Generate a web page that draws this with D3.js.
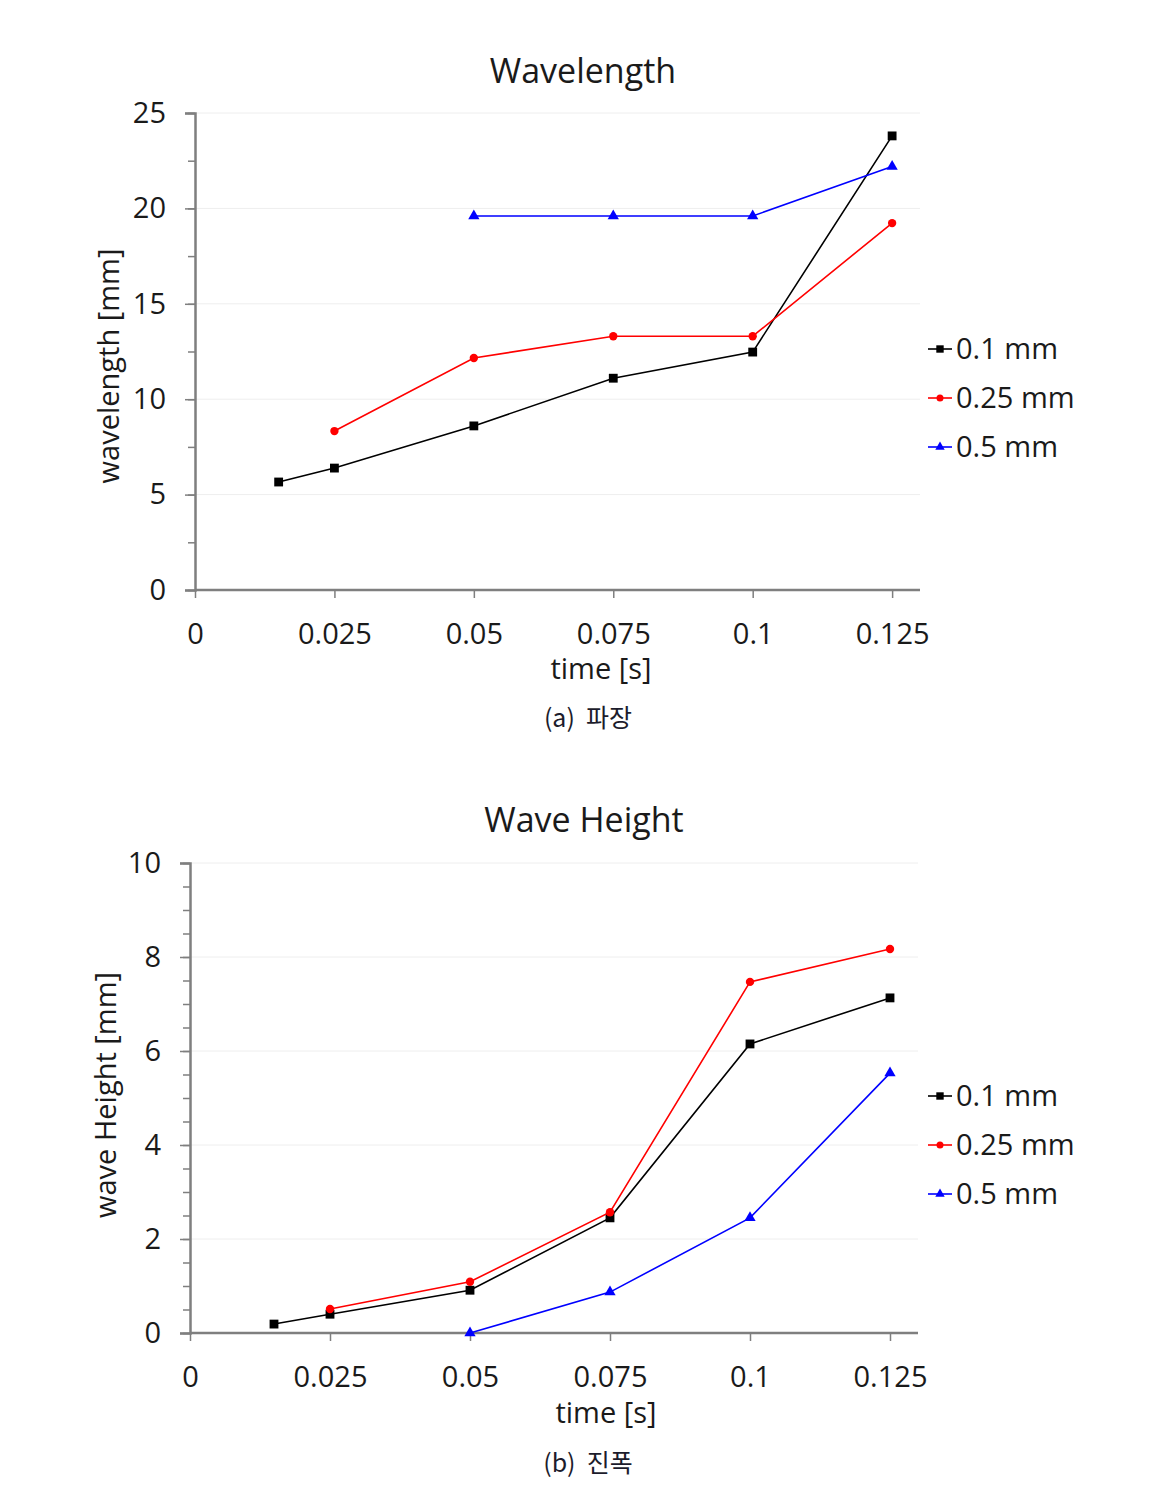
<!DOCTYPE html>
<html><head><meta charset="utf-8">
<script src="https://cdn.jsdelivr.net/npm/d3@7"></script>
<style>body{margin:0;background:#fff}svg{display:block}</style>
</head><body>
<svg id="c" width="1168" height="1487"></svg>
<script>
const times = [0.015, 0.025, 0.05, 0.075, 0.1, 0.125];
const seriesNames = ["0.1 mm", "0.25 mm", "0.5 mm"];
const xTickValues = [0, 0.025, 0.05, 0.075, 0.1, 0.125];
const xTickLabels = ["0", "0.025", "0.05", "0.075", "0.1", "0.125"];

// Wavelength [mm]
const wl01 = [5.66, 6.39, 8.6, 11.1, 12.47, 23.8];
const wl025 = [null, 8.33, 12.16, 13.3, 13.3, 19.23];
const wl05 = [null, null, 19.6, 19.6, 19.6, 22.2];
const wlTicks = [0, 5, 10, 15, 20, 25];

// Wave height [mm]
const wh01 = [0.19, 0.40, 0.91, 2.45, 6.15, 7.13];
const wh025 = [null, 0.51, 1.09, 2.57, 7.47, 8.17];
const wh05 = [null, null, 0.0, 0.87, 2.45, 5.53];
const whTicks = [0, 2, 4, 6, 8, 10];

const colors = ["#000000", "#ff0000", "#0000ff"];
const shapes = [d3.symbolSquare, d3.symbolCircle, d3.symbolTriangle];
const sizes = [78, 55, 55];
const FONT = "'Open Sans', Lato, sans-serif";
const TXT = "#1a1a1a";

const svg = d3.select("#c");

function drawChart(o) {
  const g = svg.append("g");
  const x = d3.scaleLinear().domain([0, 0.13]).range([o.x0, o.x1]);
  const y = d3.scaleLinear().domain([0, o.ymax]).range([o.y0, o.y1]);

  // gridlines
  g.append("g").selectAll("line").data(o.yTicks.slice(1)).join("line")
    .attr("x1", o.x0).attr("x2", o.x1)
    .attr("y1", d => y(d)).attr("y2", d => y(d))
    .attr("stroke", "#eeeeee").attr("stroke-width", 1);

  // y minor ticks
  const minor = d3.range(0, o.ymax + 1e-9, o.minorStep);
  const yMinor = d3.axisLeft(y).tickValues(minor).tickSize(7).tickFormat("");
  g.append("g").attr("transform", `translate(${o.x0},0)`).call(yMinor)
    .call(s => s.select(".domain").remove())
    .call(s => s.selectAll("line").attr("stroke", "#7f7f7f").attr("stroke-width", 1.5));

  const yAxis = d3.axisLeft(y).tickValues(o.yTicks).tickSize(10).tickPadding(19).tickFormat(d3.format("d"));
  g.append("g").attr("transform", `translate(${o.x0},0)`).call(yAxis)
    .call(s => s.select(".domain").attr("stroke", "#7f7f7f").attr("stroke-width", 2.5))
    .call(s => s.selectAll("line").attr("stroke", "#7f7f7f").attr("stroke-width", 1.5))
    .call(s => s.selectAll("text").attr("font-family", FONT).attr("font-size", 29).attr("fill", TXT));

  const xAxis = d3.axisBottom(x).tickValues(xTickValues).tickSize(8).tickPadding(25)
    .tickFormat((d, i) => xTickLabels[i]);
  g.append("g").attr("transform", `translate(0,${o.y0})`).call(xAxis)
    .call(s => s.select(".domain").attr("stroke", "#7f7f7f").attr("stroke-width", 2.5).attr("d", `M${o.x0},0H${o.x1}`))
    .call(s => s.selectAll("line").attr("stroke", "#7f7f7f").attr("stroke-width", 1.5))
    .call(s => s.selectAll("text").attr("font-family", FONT).attr("font-size", 29).attr("fill", TXT));

  // series
  o.data.forEach((vals, si) => {
    const pts = times.map((t, i) => ({t, v: vals[i]})).filter(p => p.v !== null);
    const line = d3.line().x(p => x(p.t)).y(p => y(p.v));
    g.append("path").datum(pts).attr("d", line).attr("fill", "none")
      .attr("stroke", colors[si]).attr("stroke-width", 1.6);
    g.append("g").selectAll("path").data(pts).join("path")
      .attr("transform", p => `translate(${x(p.t)},${y(p.v)})`)
      .attr("d", d3.symbol().type(shapes[si]).size(sizes[si]))
      .attr("fill", colors[si]);
  });

  // title
  g.append("text").attr("x", o.titleX).attr("y", o.titleY).attr("text-anchor", "middle")
    .attr("font-family", FONT).attr("font-size", 34).attr("fill", TXT).text(o.title);
  // axis titles
  g.append("text").attr("x", o.xLabelX).attr("y", o.xLabelY).attr("text-anchor", "middle")
    .attr("font-family", FONT).attr("font-size", 29).attr("fill", TXT).text("time [s]");
  g.append("text").attr("transform", `translate(${o.yLabelX},${o.yLabelY}) rotate(-90)`)
    .attr("text-anchor", "middle").attr("font-family", FONT).attr("font-size", 29)
    .attr("fill", TXT).text(o.yLabel);

  // legend
  seriesNames.forEach((n, si) => {
    const ly = o.legY + si * 49;
    const lg = g.append("g").attr("transform", `translate(928,${ly})`);
    lg.append("line").attr("x1", 0).attr("x2", 24).attr("stroke", colors[si]).attr("stroke-width", 1.6);
    lg.append("path").attr("transform", "translate(12,0)")
      .attr("d", d3.symbol().type(shapes[si]).size(sizes[si] * 0.7)).attr("fill", colors[si]);
    lg.append("text").attr("x", 28).attr("y", 10).attr("font-family", FONT).attr("font-size", 29)
      .attr("fill", TXT).text(n);
  });

  // caption
  g.append("text").attr("x", o.capX).attr("y", o.capY).attr("text-anchor", "middle")
    .attr("font-family", "'Noto Sans CJK KR', sans-serif").attr("font-size", 25)
    .attr("font-weight", 400).attr("fill", "#1c1c2c").attr("xml:space", "preserve")
    .style("white-space", "pre").text(o.caption);
}

drawChart({
  x0: 195, x1: 920, y0: 590, y1: 113, ymax: 25, minorStep: 2.5, yTicks: wlTicks,
  data: [wl01, wl025, wl05], title: "Wavelength", titleX: 583, titleY: 83,
  xLabelX: 601, xLabelY: 679, yLabelX: 119, yLabelY: 366, yLabel: "wavelength [mm]",
  legY: 349, caption: "(a)  파장", capX: 588, capY: 727
});
drawChart({
  x0: 190, x1: 918, y0: 1333, y1: 863, ymax: 10, minorStep: 0.5, yTicks: whTicks,
  data: [wh01, wh025, wh05], title: "Wave Height", titleX: 584, titleY: 832,
  xLabelX: 606, xLabelY: 1423, yLabelX: 116, yLabelY: 1095, yLabel: "wave Height [mm]",
  legY: 1096, caption: "(b)  진폭", capX: 588, capY: 1472
});
</script>
</body></html>
